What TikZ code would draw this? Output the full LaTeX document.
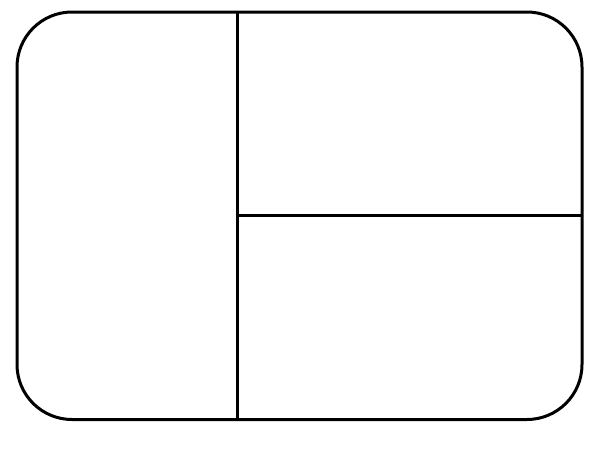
\documentclass[tikz,border=0pt]{standalone}
\begin{document}
\begin{tikzpicture}[x=1pt,y=-1pt,
  frame/.style={draw=black,line width=3pt,rounded corners=55pt},
  divider/.style={draw=black,line width=3pt}]
\useasboundingbox (0,0) rectangle (600,466);
\coordinate (tl) at (17,12);
\coordinate (br) at (582,419.5);
\coordinate (vtop) at (237,12);
\coordinate (vbot) at (237,419.5);
\coordinate (hl) at (237,215);
\coordinate (hr) at (582,215);
\draw[divider] (vtop) -- (vbot);
\draw[divider] (hl) -- (hr);
\draw[frame] (tl) rectangle (br);
\end{tikzpicture}
\end{document}
